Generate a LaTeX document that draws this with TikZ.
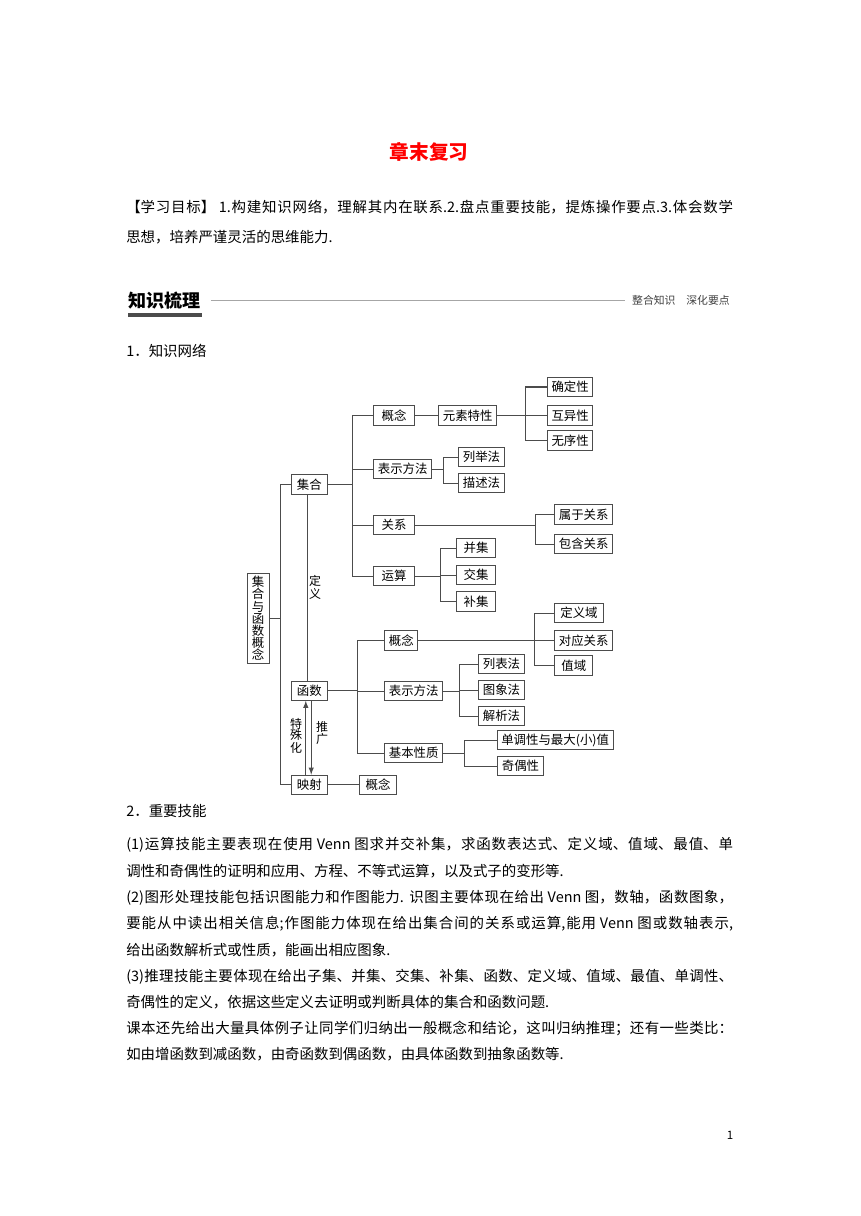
\documentclass[tikz,border=0pt]{standalone}
\usepackage{fontspec}
\setmainfont{Noto Sans CJK SC}
\usetikzlibrary{arrows,positioning}
\XeTeXlinebreaklocale "zh"
\XeTeXlinebreakskip=0pt plus 2pt minus 0.2pt
\setlength{\parindent}{0pt}
\tolerance=9999
\definecolor{boxgray}{gray}{0.3}
\definecolor{rulegray}{gray}{0.65}
\definecolor{titlered}{RGB}{255,0,0}
\tikzset{>=latex}
\tikzset{
  box/.style={draw=boxgray, line width=0.7pt, anchor=west, inner xsep=2.8pt,
    inner ysep=0pt, minimum height=13.2pt, font=\fontsize{8.6}{9}\selectfont},
  link/.style={draw=boxgray, line width=0.7pt},
  vlabel/.style={align=center, inner sep=0pt, font=\fontsize{8.3}{7.6}\selectfont},
  txt/.style={anchor=west, inner sep=0pt, font=\fontsize{10}{12}\selectfont},
  jtxt/.style={txt, text width=420pt, align=justify},
}
% one line stretched to the full text width
\newcommand{\jline}[1]{\parfillskip=0pt\relax #1\par}

\begin{document}
\begin{tikzpicture}[x=0.6922pt, y=-0.6922pt]
\useasboundingbox[fill=white] (0,0) rectangle (860,1216);

% title and goals
\node[font=\fontsize{13.6}{16}\selectfont\bfseries, text=titlered] (title) at (429,152) {\textcolor{titlered}{章末复习}};
\node[jtxt] (goal1) at (126,207) {\jline{【学习目标】 1.构建知识网络，理解其内在联系.2.盘点重要技能，提炼操作要点.3.体会数学}};
\node[txt] (goal2) at (126,237) {思想，培养严谨灵活的思维能力.};

% section header
\node[anchor=west, inner sep=0pt, font=\fontsize{12.5}{14}\selectfont\bfseries] (zhishi) at (128,300.5) {知识梳理};
\fill[black!70] (128,313.3) rectangle (202,316.7);
\node[anchor=east, inner sep=0pt, font=\fontsize{7.5}{9}\selectfont, text=black!75] (zhenghe) at (730,300.5) {整合知识\quad 深化要点};
\draw[rulegray, line width=0.5pt] ([xshift=7pt]zhishi.east) -- ([xshift=-5pt]zhenghe.west);

\node[txt] (net) at (126,350.5) {1．知识网络};

% knowledge tree
\node[box, align=center, font=\fontsize{8.6}{8.45}\selectfont, inner xsep=3.3pt, inner ysep=2.2pt] (root) at (246.7,618.4) {集\\合\\与\\函\\数\\概\\念};
\node[box, minimum width=24.7pt] (jihe) at (291,484.5) {集合};
\node[box, minimum width=24.7pt] (hanshu) at (291,690.7) {函数};
\node[box, minimum width=24.7pt] (yingshe) at (291,784.7) {映射};
\node[box, minimum width=25.8pt] (gn3) at (359,784.7) {概念};

% sets
\node[box, minimum width=28pt] (gn1) at (373.3,415.5) {概念};
\node[box] (yuansu) at (438.3,415.5) {元素特性};
\node[box] (queding) at (547,387) {确定性};
\node[box] (huyi) at (547,415.5) {互异性};
\node[box] (wuxu) at (547,440.5) {无序性};
\node[box] (biaoshi1) at (373.3,469) {表示方法};
\node[box] (liejv) at (458.3,457) {列举法};
\node[box] (miaoshu) at (458.3,483) {描述法};
\node[box, minimum width=28pt] (guanxi) at (373.3,525) {关系};
\node[box] (shuyu) at (554.3,514.5) {属于关系};
\node[box] (baohan) at (554.3,544) {包含关系};
\node[box, minimum width=28pt] (yunsuan) at (373.3,576) {运算};
\node[box, minimum width=27pt] (bingji) at (456,548) {并集};
\node[box, minimum width=27pt] (jiaoji) at (456,575) {交集};
\node[box, minimum width=27pt] (buji) at (456,601.5) {补集};

% functions
\node[box] (gn2) at (384.3,640.5) {概念};
\node[box, minimum width=33.5pt] (dingyiyu) at (554.3,613) {定义域};
\node[box] (duiying) at (554.3,640.5) {对应关系};
\node[box, minimum width=26.3pt] (zhiyu) at (554.3,665.5) {值域};
\node[box] (biaoshi2) at (384.3,691) {表示方法};
\node[box] (liebiao) at (478.3,664) {列表法};
\node[box] (tuxiang) at (478.3,690) {图象法};
\node[box] (jiexi) at (478.3,716) {解析法};
\node[box] (xingzhi) at (384.3,753) {基本性质};
\node[box] (dandiao) at (496.7,740) {单调性与最大(小)值};
\node[box] (jiou) at (497.3,766) {奇偶性};

% connectors
\foreach \c in {jihe,yingshe} \draw[link] (root.east) -- ++(11,0) |- (\c.west);
\foreach \c in {gn1,biaoshi1,guanxi,yunsuan} \draw[link] (jihe.east) -- ++(25,0) |- (\c.west);
\draw[link] (gn1.east) -- (yuansu.west);
\foreach \c in {queding,huyi,wuxu} \draw[link] (yuansu.east) -- ++(28,0) |- (\c.west);
\foreach \c in {liejv,miaoshu} \draw[link] (biaoshi1.east) -- ++(11,0) |- (\c.west);
\foreach \c in {shuyu,baohan} \draw[link] (guanxi.east) -- ++(120.6,0) |- (\c.west);
\foreach \c in {bingji,jiaoji,buji} \draw[link] (yunsuan.east) -- ++(25.3,0) |- (\c.west);
\foreach \c in {gn2,biaoshi2,xingzhi} \draw[link] (hanshu.east) -- ++(30,0) |- (\c.west);
\foreach \c in {dingyiyu,duiying,zhiyu} \draw[link] (gn2.east) -- ++(116.7,0) |- (\c.west);
\foreach \c in {liebiao,tuxiang,jiexi} \draw[link] (biaoshi2.east) -- ++(16.3,0) |- (\c.west);
\foreach \c in {dandiao,jiou} \draw[link] (xingzhi.east) -- ++(21.3,0) |- (\c.west);
\draw[link] (yingshe.east) -- (gn3.west);
\draw[link] ([xshift=-1.07pt]jihe.south) -- ([xshift=-1.07pt]hanshu.north);
\draw[link,->] ([xshift=-2.45pt]yingshe.north) -- ([xshift=-2.45pt]hanshu.south);
\draw[link,->] ([xshift=1.3pt]hanshu.south) -- ([xshift=1.3pt]yingshe.north);
\node[vlabel, font=\fontsize{8.3}{9}\selectfont] (dingyi) at (315,587.5) {定\\义};
\node[vlabel] (teshu) at (296,736) {特\\殊\\化};
\node[vlabel] (tuiguang) at (322,733) {推\\广};

% skills
\node[txt] (skill) at (126,811) {2．重要技能};
\node[jtxt] (p1a) at (126,845) {\jline{(1)运算技能主要表现在使用 Venn 图求并交补集，求函数表达式、定义域、值域、最值、单}};
\node[txt] (p1b) at (126,871) {调性和奇偶性的证明和应用、方程、不等式运算，以及式子的变形等.};
\node[jtxt] (p2a) at (126,898) {\jline{(2)图形处理技能包括识图能力和作图能力. 识图主要体现在给出 Venn 图，数轴，函数图象，}};
\node[jtxt] (p2b) at (126,924) {\jline{要能从中读出相关信息;作图能力体现在给出集合间的关系或运算,能用 Venn 图或数轴表示,}};
\node[txt] (p2c) at (126,950) {给出函数解析式或性质，能画出相应图象.};
\node[jtxt] (p3a) at (126,977) {\jline{(3)推理技能主要体现在给出子集、并集、交集、补集、函数、定义域、值域、最值、单调性、}};
\node[txt] (p3b) at (126,1002) {奇偶性的定义，依据这些定义去证明或判断具体的集合和函数问题.};
\node[jtxt] (p4a) at (126,1028) {\jline{课本还先给出大量具体例子让同学们归纳出一般概念和结论，这叫归纳推理；还有一些类比：}};
\node[txt] (p4b) at (126,1054) {如由增函数到减函数，由奇函数到偶函数，由具体函数到抽象函数等.};

\node[font=\fontsize{8}{9}\selectfont, inner sep=0pt] (page) at (730,1135) {1};
\end{tikzpicture}
\end{document}
